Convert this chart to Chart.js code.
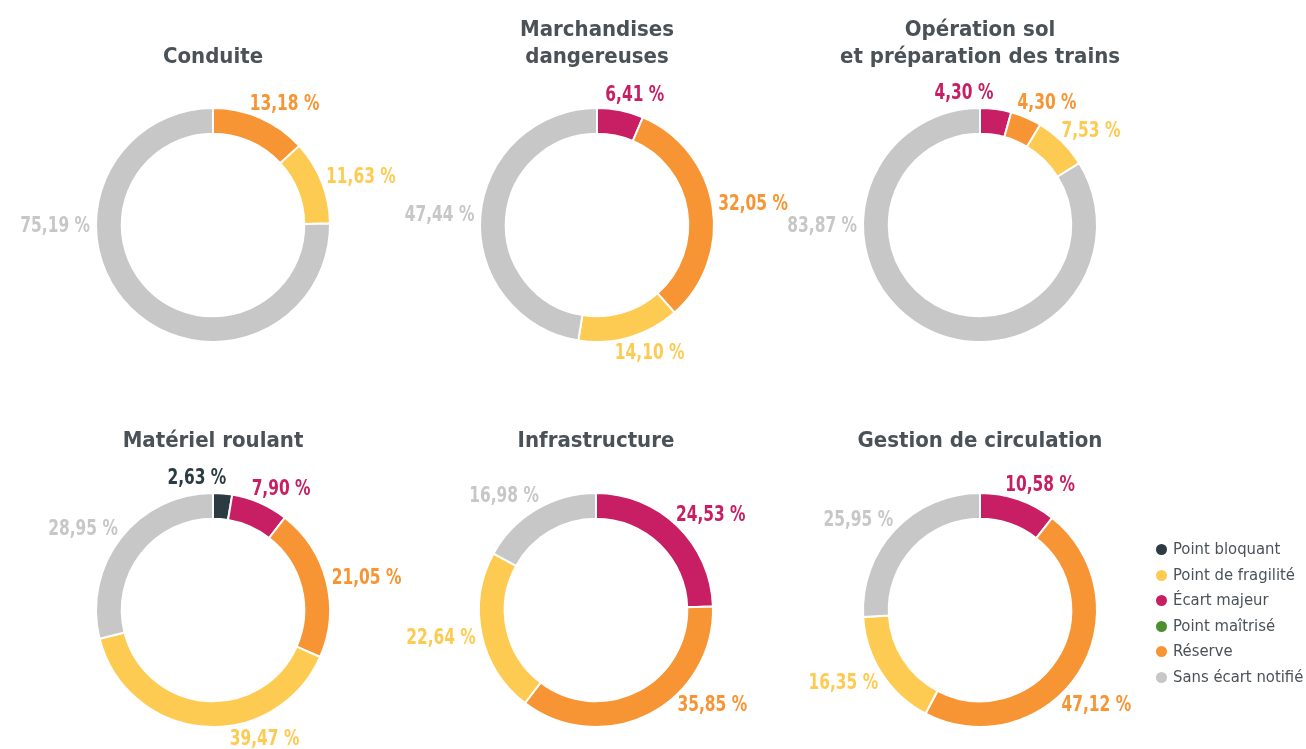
<!DOCTYPE html>
<html lang="fr">
<head>
<meta charset="utf-8">
<title>Répartition des constats par domaine</title>
<script src="https://cdn.jsdelivr.net/npm/chart.js@4.4.1/dist/chart.umd.min.js"></script>
<style>
  html, body { margin: 0; padding: 0; background: #fff; }
  body { position: relative; width: 1306px; height: 749px; overflow: hidden; }
  canvas.donut { position: absolute; }
  #legend {
    position: absolute; left: 1156px; top: 538px; margin: 0; padding: 0; list-style: none;
    font-family: "DejaVu Sans Condensed", "DejaVu Sans", sans-serif; font-size: 16.5px; color: #4a5258;
  }
  #legend li { height: 25.6px; line-height: 22px; white-space: nowrap; }
  #legend span { display: inline-block; width: 11px; height: 11px; border-radius: 50%; margin-right: 6px; vertical-align: -1px; }
</style>
</head>
<body>
<canvas class="donut" id="conduite" width="420" height="380" style="left:3px;top:0"></canvas>
<canvas class="donut" id="marchandises" width="420" height="380" style="left:387px;top:0"></canvas>
<canvas class="donut" id="operation" width="420" height="380" style="left:770px;top:0"></canvas>
<canvas class="donut" id="materiel" width="420" height="369" style="left:3px;top:380px"></canvas>
<canvas class="donut" id="infrastructure" width="420" height="369" style="left:386px;top:380px"></canvas>
<canvas class="donut" id="gestion" width="420" height="369" style="left:770px;top:380px"></canvas>
<ul id="legend"></ul>

<script>
// categories, in legend order
const legendOrder = ['Point bloquant', 'Point de fragilité', 'Écart majeur', 'Point maîtrisé', 'Réserve', 'Sans écart notifié'];
// categories, in the order they run round each ring (clockwise from the top)
const ringOrder = ['Point bloquant', 'Écart majeur', 'Point maîtrisé', 'Réserve', 'Point de fragilité', 'Sans écart notifié'];

// shares in %, following ringOrder
const conduite       = [0,    0,     0, 13.18, 11.63, 75.19];
const marchandises   = [0,    6.41,  0, 32.05, 14.10, 47.44];
const operationSol   = [0,    4.30,  0,  4.30,  7.53, 83.87];
const materiel       = [2.63, 7.90,  0, 21.05, 39.47, 28.95];
const infrastructure = [0,   24.53,  0, 35.85, 22.64, 16.98];
const gestion        = [0,   10.58,  0, 47.12, 16.35, 25.95];

const titles = {
  conduite: ['Conduite'],
  marchandises: ['Marchandises', 'dangereuses'],
  operation: ['Opération sol', 'et préparation des trains'],
  materiel: ['Matériel roulant'],
  infrastructure: ['Infrastructure'],
  gestion: ['Gestion de circulation']
};

const colors = {
  'Point bloquant': '#2c3a42',
  'Point de fragilité': '#fecb52',
  'Écart majeur': '#c81e63',
  'Point maîtrisé': '#4d8f2e',
  'Réserve': '#f79433',
  'Sans écart notifié': '#c7c7c7'
};

const titleColor = '#4a5258';
const labelFont = 'bold 22px "DejaVu Sans Condensed", "DejaVu Sans", sans-serif';
const labelSquash = 0.78;   // narrow the bold digits horizontally
const fmt = v => v.toFixed(2).replace('.', ',') + ' %';

// value labels placed just outside the ring, pushed apart when they collide
const ringLabels = {
  id: 'ringLabels',
  afterDatasetsDraw(chart) {
    const { ctx } = chart;
    const values = chart.data.datasets[0].data;
    const total = values.reduce((a, b) => a + b, 0);
    const meta = chart.getDatasetMeta(0);
    const gap = 6, h = 20;
    ctx.save();
    ctx.font = labelFont;

    const items = [];
    meta.data.forEach((arc, i) => {
      const v = values[i];
      if (!v) return;
      const p = arc.getProps(['x', 'y', 'startAngle', 'endAngle', 'outerRadius'], true);
      const start = p.startAngle + Math.PI / 2, end = p.endAngle + Math.PI / 2;
      let a = (start + end) / 2;
      // half the ring or more: label on the left side
      if (v / total > 0.5) a = 1.5 * Math.PI;
      // long arcs in the lower-right quarter: label on its diagonal
      else if (v / total > 1 / 3 && a > Math.PI / 2 && a < Math.PI) a = 0.75 * Math.PI;
      const text = fmt(v);
      items.push({ text, a, w: ctx.measureText(text).width * labelSquash, color: colors[ringOrder[i]], x: p.x, y: p.y, r: p.outerRadius + gap });
    });

    // the text box leans away from the ring, right-aligned on the left half
    const box = it => {
      const s = Math.sin(it.a), c = Math.cos(it.a);
      const lean = s >= 0 ? Math.sqrt(s) : -Math.pow(-s, 0.25);
      const cx = it.x + s * it.r + lean * it.w / 2;
      const cy = it.y - c * it.r - c * h / 2;
      return { cx, cy, x0: cx - it.w / 2, x1: cx + it.w / 2, y0: cy - h / 2, y1: cy + h / 2 };
    };
    const hit = (b1, b2) => b1.x0 < b2.x1 + 24 && b2.x0 < b1.x1 + 24 && b1.y0 < b2.y1 + 2 && b2.y0 < b1.y1 + 2;

    // crowded labels: the earlier one steps back anticlockwise
    const step = Math.PI / 360;
    for (let n = 0; n < 300; n++) {
      let moved = false;
      items.sort((p, q) => p.a - q.a);
      for (let i = 0; i < items.length; i++) {
        for (let j = i + 1; j < items.length; j++) {
          if (hit(box(items[i]), box(items[j]))) { items[i].a -= step; moved = true; }
        }
        const b = box(items[i]);
        if (b.y1 > chart.height - 1) { items[i].a -= step; moved = true; }
      }
      if (!moved) break;
    }

    ctx.textAlign = 'center';
    ctx.textBaseline = 'middle';
    items.forEach(it => {
      const b = box(it);
      ctx.save();
      ctx.translate(b.cx, b.cy + 1);
      ctx.scale(labelSquash, 1);
      ctx.fillStyle = it.color;
      ctx.fillText(it.text, 0, 0);
      ctx.restore();
    });
    ctx.restore();
  }
};

function donut(id, values, top) {
  const lines = titles[id];
  const lineHeight = 27;
  const padTop = top ? 43.5 - (lines.length - 1) * lineHeight : 47.5;
  const padBottom = top ? 37.5 : 38.5;
  return new Chart(document.getElementById(id), {
    type: 'doughnut',
    data: {
      labels: ringOrder,
      datasets: [{
        data: values,
        backgroundColor: ringOrder.map(k => colors[k]),
        borderColor: '#ffffff',
        borderWidth: values.map(v => (v ? 2 : 0)),
        hoverOffset: 0
      }]
    },
    options: {
      responsive: false,
      animation: false,
      radius: 117,
      cutout: '78%',
      layout: { padding: { left: 0, right: 0, top: 0, bottom: top ? 38 : 22 } },
      plugins: {
        legend: { display: false },
        tooltip: { enabled: false },
        title: {
          display: true,
          text: lines,
          color: titleColor,
          font: { family: '"DejaVu Sans Condensed", "DejaVu Sans", sans-serif', size: 22, weight: 'bold', lineHeight: lineHeight + 'px' },
          padding: { top: padTop, bottom: padBottom }
        }
      }
    },
    plugins: [ringLabels]
  });
}

donut('conduite', conduite, true);
donut('marchandises', marchandises, true);
donut('operation', operationSol, true);
donut('materiel', materiel, false);
donut('infrastructure', infrastructure, false);
donut('gestion', gestion, false);

// shared legend
const legend = document.getElementById('legend');
legendOrder.forEach(name => {
  const li = document.createElement('li');
  const dot = document.createElement('span');
  dot.style.background = colors[name];
  li.appendChild(dot);
  li.appendChild(document.createTextNode(name));
  legend.appendChild(li);
});
</script>
</body>
</html>
